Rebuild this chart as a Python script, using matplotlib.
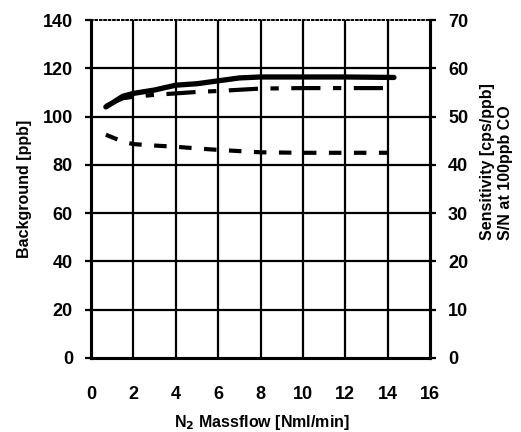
import matplotlib
matplotlib.use("Agg")
import matplotlib.pyplot as plt

plt.rcParams['font.family'] = ['Liberation Sans', 'DejaVu Sans']
plt.rcParams['font.weight'] = 'bold'

# Data
bg_flow = [0.7, 1.5, 2, 3, 4, 5, 6, 8, 10, 12, 14]
background = [92.5, 89.6, 88.6, 88.0, 87.5, 86.8, 86.2, 85.2, 85.0, 85.0, 85.0]

sens_flow = [0.7, 1.0, 1.5, 2, 3, 4, 5, 6, 7, 8, 10, 12, 14.3]
sensitivity = [52.0, 52.8, 54.2, 54.8, 55.5, 56.5, 56.8, 57.4, 58.0, 58.2, 58.2, 58.2, 58.1]

sn_flow = [0.7, 1.0, 1.5, 2, 3, 4, 5, 6, 8, 10, 12, 14]
sn = [52.2, 52.8, 53.8, 54.1, 54.5, 54.8, 55.1, 55.3, 55.8, 55.9, 55.9, 55.9]

x_ticks = [0, 2, 4, 6, 8, 10, 12, 14, 16]
left_ticks = [0, 20, 40, 60, 80, 100, 120, 140]
right_ticks = [0, 10, 20, 30, 40, 50, 60, 70]

fig = plt.figure(figsize=(5.21, 4.32), dpi=100)
ax = fig.add_axes([0.1747, 0.1713, 0.6506, 0.7824])
ax2 = ax.twinx()

ax.set_xlim(0, 16)
ax.set_ylim(0, 140)
ax2.set_ylim(0, 70)

for v in x_ticks[1:-1]:
    ax.axvline(v, color='black', lw=1.6, zorder=1)
for v in left_ticks[1:-1]:
    ax.axhline(v, color='black', lw=1.6, zorder=1)

ax.plot(bg_flow, background, color='black', lw=3, linestyle=(0, (3, 3)), zorder=3)
ax2.plot(sn_flow, sn, color='black', lw=3, linestyle=(0, (7, 3, 2, 3)), zorder=3)
ax2.plot(sens_flow, sensitivity, color='black', lw=3.8, solid_capstyle='round', zorder=4)

ax.set_xticks(x_ticks)
ax.set_yticks(left_ticks)
ax2.set_yticks(right_ticks)

for a in (ax, ax2):
    for s in ('left', 'right', 'bottom'):
        a.spines[s].set_linewidth(2.2)
    a.spines['top'].set_linestyle(':')
    a.spines['top'].set_linewidth(1.2)

ax.tick_params(axis='x', length=0, pad=20, labelsize=13)
ax.tick_params(axis='y', length=4, width=1.6, pad=9, labelsize=13)
ax2.tick_params(axis='y', length=4, width=1.6, pad=9, labelsize=13)

ax.set_ylabel('Background [ppb]', fontsize=11.5, fontweight='bold', labelpad=8)

fig.text(0.502, 0.0116, 'N$_2$ Massflow [Nml/min]', ha='center', va='baseline',
         fontsize=11.5, fontweight='bold')

fig.text(0.953, 0.444, 'Sensitivity [cps/ppb]\nS/N at 100ppb CO', rotation=90,
         ha='center', va='bottom', multialignment='left', fontsize=11.5,
         fontweight='bold', linespacing=1.25)

fig.savefig('out.png', dpi=100)
